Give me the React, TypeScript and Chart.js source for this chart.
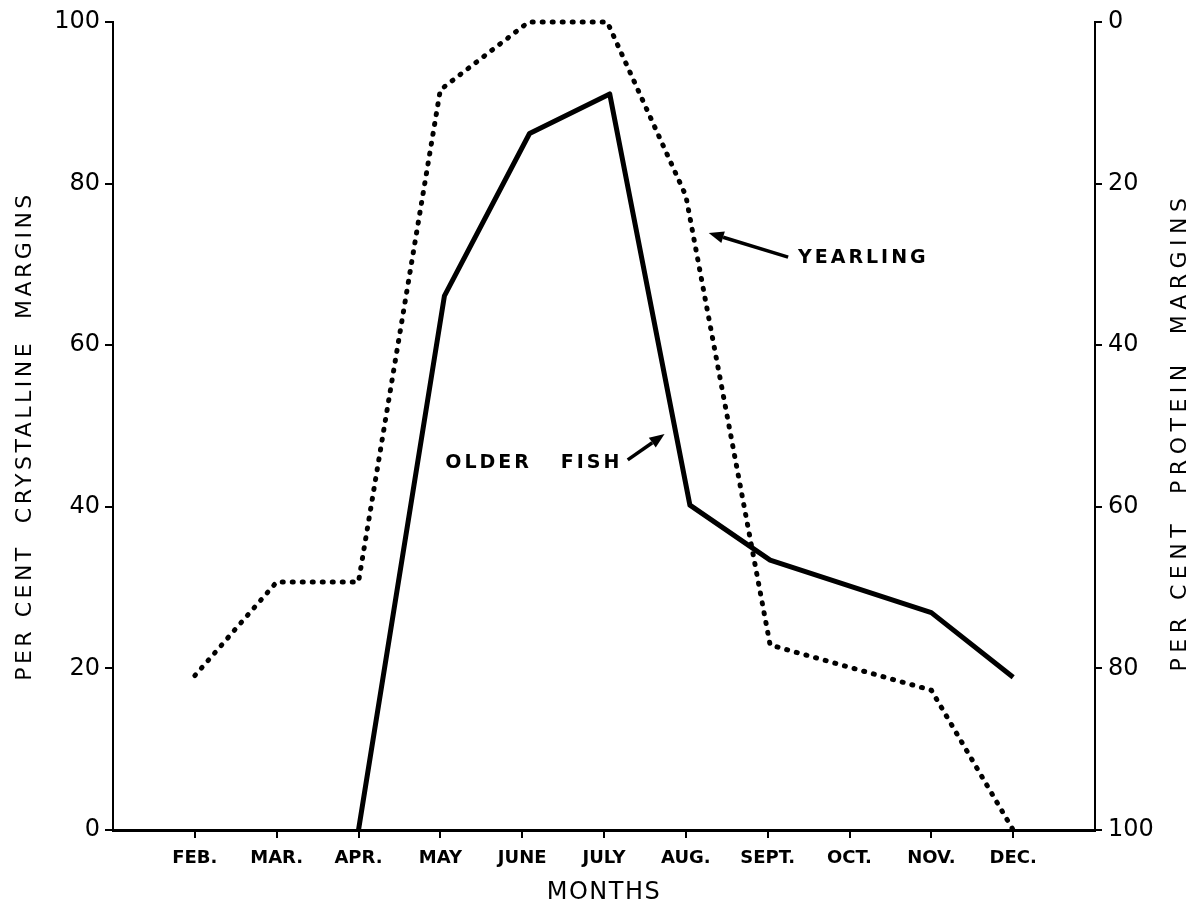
import React, { useEffect, useRef } from "react";
import { Chart, registerables } from "chart.js";

Chart.register(...registerables);

// Month positions on the x axis (0 = Jan, 12 = next Jan)
const monthTicks = [1, 2, 3, 4, 5, 6, 7, 8, 9, 10, 11];
const monthLabels = ["FEB.", "MAR.", "APR.", "MAY", "JUNE", "JULY", "AUG.", "SEPT.", "OCT.", "NOV.", "DEC."];

// Yearling (dotted)
const yearlingMonths = [1, 2, 3, 4, 5.08, 6.04, 7.0, 8.03, 10, 11];
const yearlingValues = [19.1, 30.7, 30.7, 91.6, 100, 100, 78.5, 22.9, 17.3, 0];

// Older fish (solid)
const olderMonths = [3, 4.05, 5.09, 6.07, 7.05, 8.03, 10, 11];
const olderValues = [0, 66.1, 86.2, 91.1, 40.2, 33.4, 26.9, 18.9];

const leftTicks = [0, 20, 40, 60, 80, 100];
const rightTicks = [0, 20, 40, 60, 80, 100];

const xTitle = "MONTHS";
const leftTitle = "PER CENT  CRYSTALLINE  MARGINS";
const rightTitle = "PER CENT  PROTEIN  MARGINS";

const labelNotes = [
  { text: "YEARLING", x: 8.37, y: 70.8, fromX: 8.25, fromY: 70.9, toX: 7.28, toY: 73.9 },
  { text: "OLDER   FISH", x: 4.06, y: 45.4, fromX: 6.29, fromY: 45.8, toX: 6.74, toY: 49.0 },
];

const FONT = "'DejaVu Sans', 'Liberation Sans', sans-serif";

const annotPlugin = {
  id: "annot",
  afterDraw(chart: any) {
    const ctx = chart.ctx as CanvasRenderingContext2D;
    const xs = chart.scales.x;
    const ys = chart.scales.y;
    const area = chart.chartArea;
    ctx.save();
    ctx.fillStyle = "#000";
    ctx.strokeStyle = "#000";

    // annotations with arrows
    for (const n of labelNotes) {
      ctx.font = `bold 19px ${FONT}`;
      (ctx as any).letterSpacing = "3px";
      ctx.textAlign = "left";
      ctx.textBaseline = "middle";
      ctx.fillText(n.text, xs.getPixelForValue(n.x), ys.getPixelForValue(n.y));
      const x1 = xs.getPixelForValue(n.fromX);
      const y1 = ys.getPixelForValue(n.fromY);
      const x2 = xs.getPixelForValue(n.toX);
      const y2 = ys.getPixelForValue(n.toY);
      const ang = Math.atan2(y2 - y1, x2 - x1);
      const headLen = 15;
      const headW = 6;
      const bx = x2 - headLen * Math.cos(ang);
      const by = y2 - headLen * Math.sin(ang);
      ctx.lineWidth = 3.5;
      ctx.beginPath();
      ctx.moveTo(x1, y1);
      ctx.lineTo(bx, by);
      ctx.stroke();
      ctx.beginPath();
      ctx.moveTo(x2, y2);
      ctx.lineTo(bx + headW * Math.sin(ang), by - headW * Math.cos(ang));
      ctx.lineTo(bx - headW * Math.sin(ang), by + headW * Math.cos(ang));
      ctx.closePath();
      ctx.fill();
    }

    // axis titles
    ctx.textAlign = "center";
    ctx.textBaseline = "middle";
    ctx.font = `24px ${FONT}`;
    (ctx as any).letterSpacing = "1.5px";
    ctx.fillText(xTitle, (area.left + area.right) / 2, area.bottom + 63);

    ctx.font = `22px ${FONT}`;
    (ctx as any).letterSpacing = "3.5px";
    ctx.save();
    ctx.translate(25, (area.top + area.bottom) / 2 + 10);
    ctx.rotate(-Math.PI / 2);
    ctx.fillText(leftTitle, 0, 0);
    ctx.restore();

    (ctx as any).letterSpacing = "5.5px";
    ctx.save();
    ctx.translate(chart.width - 16, (area.top + area.bottom) / 2 + 6);
    ctx.rotate(-Math.PI / 2);
    ctx.fillText(rightTitle, 0, 0);
    ctx.restore();

    ctx.restore();
  },
};

export default function App() {
  const ref = useRef<HTMLCanvasElement | null>(null);
  useEffect(() => {
    if (!ref.current) return;
    Chart.defaults.font.family = FONT;
    Chart.defaults.color = "#000";
    const chart = new Chart(ref.current, {
      type: "line",
      data: {
        datasets: [
          {
            label: "Yearling",
            data: yearlingMonths.map((m, i) => ({ x: m, y: yearlingValues[i] })),
            borderColor: "#000",
            borderWidth: 5,
            borderDash: [1, 9],
            borderCapStyle: "round",
            pointRadius: 0,
            tension: 0,
            fill: false,
            clip: false as any,
          },
          {
            label: "Older fish",
            data: olderMonths.map((m, i) => ({ x: m, y: olderValues[i] })),
            borderColor: "#000",
            borderWidth: 5,
            borderJoinStyle: "round",
            pointRadius: 0,
            tension: 0,
            fill: false,
            clip: false as any,
          },
        ],
      },
      options: {
        responsive: false,
        animation: false,
        layout: { padding: { top: 22, left: 0, right: 0, bottom: 0 } },
        plugins: { legend: { display: false }, tooltip: { enabled: false } },
        scales: {
          x: {
            type: "linear",
            min: 0,
            max: 12,
            afterBuildTicks: (s: any) => {
              s.ticks = monthTicks.map((v) => ({ value: v }));
            },
            afterFit: (s: any) => {
              s.height = 81;
            },
            ticks: {
              autoSkip: false,
              maxRotation: 0,
              padding: 10,
              font: { size: 18, weight: "bold" },
              color: "#000",
              callback: (_v: any, i: number) => monthLabels[i],
            },
            grid: { drawOnChartArea: false, drawTicks: true, tickLength: 8, color: "#000", lineWidth: 2 },
            border: { display: true, color: "#000", width: 3 },
          },
          y: {
            type: "linear",
            position: "left",
            min: 0,
            max: 100,
            afterBuildTicks: (s: any) => {
              s.ticks = leftTicks.map((v) => ({ value: v }));
            },
            afterFit: (s: any) => {
              s.width = 113;
            },
            ticks: { font: { size: 24 }, color: "#000", padding: 5 },
            grid: { drawOnChartArea: false, drawTicks: true, tickLength: 8, color: "#000", lineWidth: 2 },
            border: { display: true, color: "#000", width: 2 },
          },
          y2: {
            type: "linear",
            position: "right",
            reverse: true,
            min: 0,
            max: 100,
            afterBuildTicks: (s: any) => {
              s.ticks = rightTicks.map((v) => ({ value: v }));
            },
            afterFit: (s: any) => {
              s.width = 101;
            },
            ticks: { font: { size: 24 }, color: "#000", padding: 6 },
            grid: { drawOnChartArea: false, drawTicks: true, tickLength: 7, color: "#000", lineWidth: 2 },
            border: { display: true, color: "#000", width: 2 },
          },
        },
      } as any,
      plugins: [annotPlugin],
    });
    return () => chart.destroy();
  }, []);
  return (
    <div style={{ position: "absolute", left: 0, top: 0, width: 1196, height: 911, background: "#fff" }}>
      <canvas ref={ref} width={1196} height={911} style={{ display: "block" }} />
    </div>
  );
}
